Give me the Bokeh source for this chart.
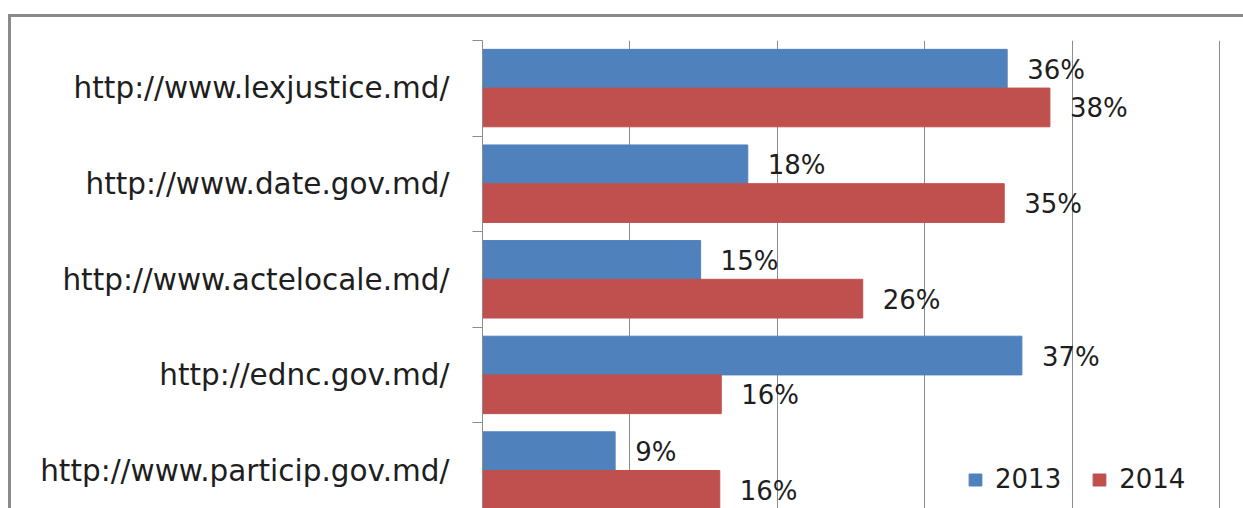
from bokeh.plotting import figure
from bokeh.models import (ColumnDataSource, Range1d, FixedTicker, Grid, Legend,
                          LegendItem)
from bokeh.transform import dodge
from bokeh.core.properties import value
from bokeh.embed import file_html
from bokeh.resources import INLINE

# ---- data ----
categories = ["http://www.lexjustice.md/", "http://www.date.gov.md/",
              "http://www.actelocale.md/", "http://ednc.gov.md/",
              "http://www.particip.gov.md/"]
values_2013 = [35.6, 18.0, 14.8, 36.6, 9.0]
values_2014 = [38.5, 35.4, 25.8, 16.2, 16.1]
labels_2013 = ["36%", "18%", "15%", "37%", "9%"]
labels_2014 = ["38%", "35%", "26%", "16%", "16%"]
series_names = ["2013", "2014"]
grid_ticks = [0, 10, 20, 30, 40, 50]

n = len(categories)
ypos = [n - 1 - i for i in range(n)]  # top category first
src = ColumnDataSource(dict(y=ypos, cat=categories,
                            v2013=values_2013, v2014=values_2014,
                            l2013=labels_2013, l2014=labels_2014))

BLUE = "#4F81BD"
RED = "#C0504D"
GRAY = "#8c8c8c"
FONT = "DejaVu Sans"
TXT = "#1e1e1e"

p = figure(width=1232, height=491, output_backend="svg", toolbar_location=None,
           x_range=Range1d(0, 51.84), y_range=Range1d(-0.426, n - 0.5),
           x_axis_location=None, min_border_left=471, min_border_top=23,
           min_border_right=0, min_border_bottom=0)
p.styles = {"border-left": "3px solid #8a8a8a", "border-top": "3px solid #8a8a8a",
            "margin-top": "14px", "margin-left": "8px",
            "box-sizing": "content-box"}
p.outline_line_color = None
p.background_fill_color = "white"
p.border_fill_color = "white"

# grid
p.ygrid.visible = False
for g in p.xgrid:
    g.visible = False
vg = Grid(dimension=0, ticker=FixedTicker(ticks=grid_ticks),
          grid_line_color=GRAY, grid_line_width=1)
p.add_layout(vg, "center")

# y axis: labels at band centres, tick marks at band boundaries
ax = p.yaxis[0]
ax.ticker = FixedTicker(ticks=ypos, minor_ticks=[y + 0.5 for y in ypos])
ax.major_label_overrides = {float(y): c for y, c in zip(ypos, categories)}
ax.major_tick_out = 0
ax.major_tick_in = 0
ax.minor_tick_out = 10
ax.minor_tick_in = 0
ax.minor_tick_line_color = GRAY
ax.axis_line_color = GRAY
ax.major_label_standoff = 23
ax.major_label_text_font = FONT
ax.major_label_text_font_size = "29.5px"
ax.major_label_text_color = TXT

r1 = p.hbar(y=dodge("y", 0.205, range=p.y_range), left=0, right="v2013",
            height=0.405, source=src, fill_color=BLUE, line_color=BLUE)
r2 = p.hbar(y=dodge("y", -0.2, range=p.y_range), left=0, right="v2014",
            height=0.405, source=src, fill_color=RED, line_color=RED)

for col, lab, off in (("v2013", "l2013", 0.205), ("v2014", "l2014", -0.2)):
    p.text(x=col, y=dodge("y", off, range=p.y_range), text=lab, source=src,
           x_offset=20, y_offset=1, text_baseline="middle", text_align="left",
           text_font=value(FONT), text_font_size="26px", text_color=TXT)

legend = Legend(items=[LegendItem(label=series_names[0], renderers=[r1]),
                       LegendItem(label=series_names[1], renderers=[r2])],
                orientation="horizontal", location=(485, 17),
                glyph_width=16, glyph_height=15, label_standoff=12, spacing=30,
                padding=0, margin=0, border_line_color=None,
                background_fill_alpha=0, label_text_font=FONT,
                label_text_font_size="26px", label_text_color=TXT)
p.add_layout(legend, "center")

open("out.html", "w").write(file_html(p, INLINE))
